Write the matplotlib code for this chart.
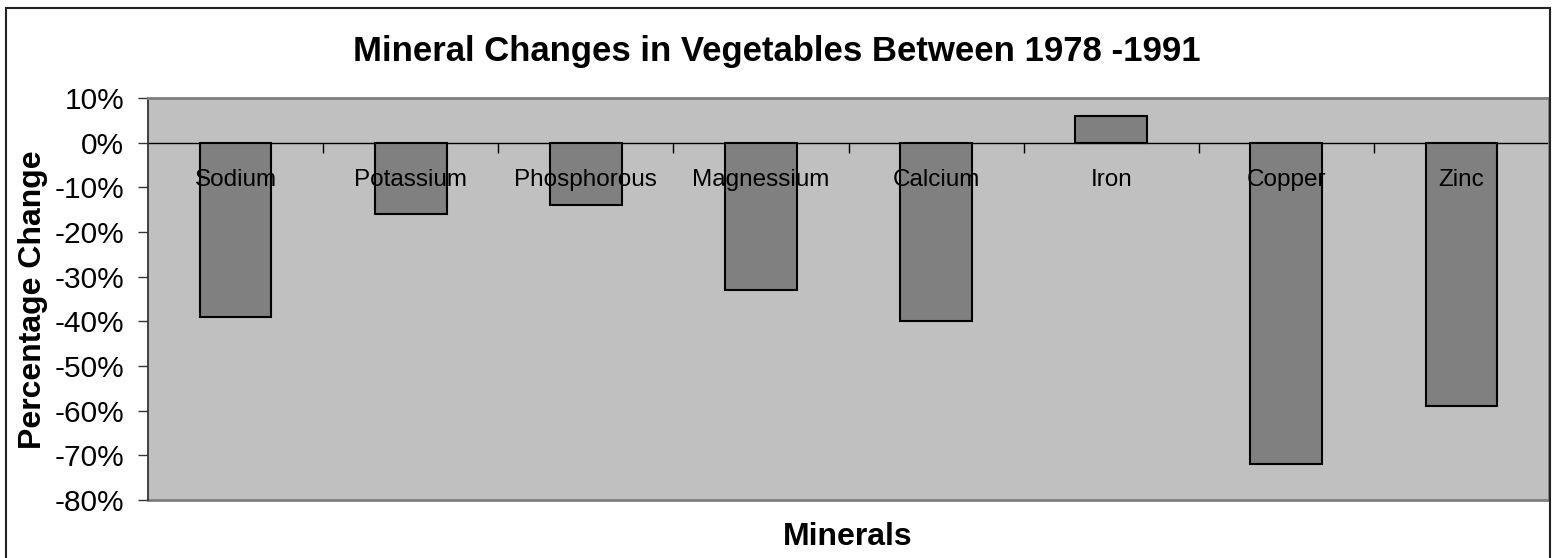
import matplotlib
matplotlib.use("Agg")
import matplotlib.pyplot as plt
from matplotlib.ticker import PercentFormatter, FixedLocator
from matplotlib.patches import Rectangle

# Data (fractional change 1978 -> 1991)
minerals = ["Sodium", "Potassium", "Phosphorous", "Magnessium",
            "Calcium", "Iron", "Copper", "Zinc"]
change = [-0.39, -0.16, -0.14, -0.33, -0.40, 0.06, -0.72, -0.59]
y_ticks = [0.1, 0.0, -0.1, -0.2, -0.3, -0.4, -0.5, -0.6, -0.7, -0.8]

plt.rcParams["font.family"] = ["Liberation Sans", "DejaVu Sans"]
plt.rcParams["axes.unicode_minus"] = False

fig = plt.figure(figsize=(15.54, 5.58), dpi=100)
ax = fig.add_axes([148 / 1554, 1 - 500 / 558, (1549 - 148) / 1554, (500 - 98) / 558])
ax.set_facecolor("#C0C0C0")

x = list(range(len(minerals)))
ax.bar(x, change, width=0.41, color="#808080", edgecolor="black", linewidth=1.5, zorder=2)

# category labels sit just below the zero line
for xi, name in zip(x, minerals):
    ax.annotate(name, (xi, 0), xytext=(0, -27), textcoords="offset points",
                ha="center", va="center", fontsize=17.5, zorder=3)

ax.set_xlim(-0.5, len(minerals) - 0.5)
ax.set_ylim(-0.8, 0.1)
ax.yaxis.set_major_locator(FixedLocator(y_ticks))
ax.yaxis.set_major_formatter(PercentFormatter(1.0, decimals=0))
ax.tick_params(axis="y", labelsize=21.5, length=7, width=1, pad=10,
               direction="out", color="#333333")

# zero line acts as the category axis
ax.spines["bottom"].set_position(("data", 0))
ax.spines["bottom"].set_linewidth(1)
ax.spines["bottom"].set_zorder(1)
ax.xaxis.set_major_locator(FixedLocator([i + 0.5 for i in x[:-1]]))
ax.tick_params(axis="x", length=7, width=1, direction="out", labelbottom=False)
ax.spines["left"].set_color("#333333")
ax.spines["left"].set_linewidth(1.3)
ax.spines["top"].set_color("#808080")
ax.spines["top"].set_linewidth(2)
ax.spines["right"].set_color("#808080")
ax.spines["right"].set_linewidth(2)
ax.plot([0, 1], [0, 0], transform=ax.transAxes, color="#808080", linewidth=2, clip_on=False)

fig.text(0.5, 1 - 52 / 558, "Mineral Changes in Vegetables Between 1978 -1991",
         ha="center", va="center", fontsize=25, fontweight="bold")
fig.text(848 / 1554, 1 - 537 / 558, "Minerals", ha="center", va="center",
         fontsize=23, fontweight="bold")
fig.text(33 / 1554, 1 - 300 / 558, "Percentage Change", ha="center", va="center",
         rotation=90, fontsize=23, fontweight="bold")

# chart border
fig.add_artist(Rectangle((6 / 1554, -0.02), (1550 - 6) / 1554, 1 - 8 / 558 + 0.02,
                         transform=fig.transFigure, fill=False, edgecolor="#222222",
                         linewidth=1.5))

fig.savefig("out.png", dpi=100)
